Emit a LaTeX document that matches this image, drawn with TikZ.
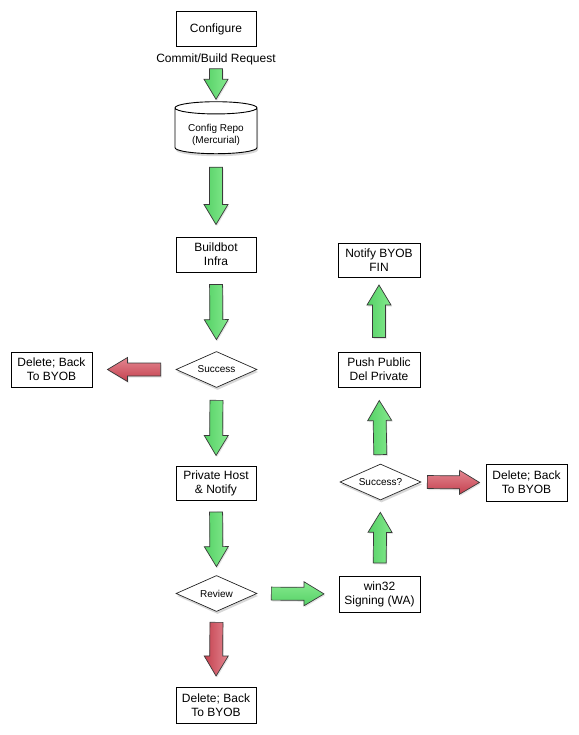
\documentclass[tikz,border=0pt]{standalone}
\usepackage{fontspec}
\setmainfont{Liberation Sans}
\usetikzlibrary{shapes.geometric,calc,shadows}
\definecolor{gA}{HTML}{55D166}
\definecolor{gB}{HTML}{85EA8E}
\definecolor{rA}{HTML}{C4404E}
\definecolor{rB}{HTML}{E38690}
\definecolor{edgegray}{HTML}{3A3A3A}
\tikzset{
  box/.style={draw=black, fill=white, line width=1pt, minimum width=80pt, minimum height=35pt,
    inner sep=1pt, align=center, font=\fontsize{12}{14}\selectfont},
  dec/.style={diamond, draw=black!85, fill=white, line width=0.7pt, minimum width=81pt,
    minimum height=36pt, inner sep=0pt, aspect=2.25, font=\fontsize{10}{12}\selectfont,
    drop shadow={opacity=0.3, shadow xshift=1pt, shadow yshift=-2.5pt}},
  repo/.style={cylinder, shape border rotate=90, aspect=0.22, draw=black, fill=white, line width=0.9pt,
    minimum width=82pt, minimum height=52pt, inner sep=0pt, align=center,
    font=\fontsize{10}{12}\selectfont,
    drop shadow={opacity=0.3, shadow xshift=1pt, shadow yshift=-2.5pt}},
  garrowv/.style={draw=edgegray, line width=0.7pt, left color=gA, right color=gB,
    drop shadow={opacity=0.2, shadow xshift=1pt, shadow yshift=-1.5pt}},
  garrowh/.style={draw=edgegray, line width=0.7pt, bottom color=gA, top color=gB,
    drop shadow={opacity=0.2, shadow xshift=1pt, shadow yshift=-1.5pt}},
  rarrowv/.style={draw=edgegray, line width=0.7pt, left color=rA, right color=rB,
    drop shadow={opacity=0.2, shadow xshift=1pt, shadow yshift=-1.5pt}},
  rarrowh/.style={draw=edgegray, line width=0.7pt, bottom color=rA, top color=rB,
    drop shadow={opacity=0.2, shadow xshift=1pt, shadow yshift=-1.5pt}},
  lbl/.style={inner sep=1pt, font=\fontsize{12}{14}\selectfont}
}
% #1 style, #2 from anchor, #3 to anchor, #4 gap at start, #5 gap at end
\newcommand\blockarrow[5]{%
  \coordinate (ba-s) at ($(#2)!#4!(#3)$);
  \coordinate (ba-e) at ($(#3)!#5!(#2)$);
  \coordinate (ba-h) at ($(ba-e)!20pt!(ba-s)$);
  \path[#1] ($(ba-s)!6.5pt!90:(ba-e)$) -- ($(ba-h)!6.5pt!90:(ba-e)$) -- ($(ba-h)!12pt!90:(ba-e)$)
    -- (ba-e) -- ($(ba-h)!12pt!-90:(ba-e)$) -- ($(ba-h)!6.5pt!-90:(ba-e)$)
    -- ($(ba-s)!6.5pt!-90:(ba-e)$) -- cycle;
}
\begin{document}
\begin{tikzpicture}[x=1pt, y=-1pt]
\useasboundingbox[fill=white] (0,0) rectangle (578,735);

\node[box] (conf) at (216,29.5) {Configure};
\node[lbl] (commit) at (216,59) {Commit/Build Request};
\node[repo] (repo) at (216,131) {\rule{0pt}{16pt}Config Repo\\(Mercurial)};
\node[box] (bb) at (216,254.5) {Buildbot\\Infra};
\node[dec] (succ) at (216.5,369.5) {Success};
\node[box, minimum width=81pt] (del1) at (51.5,369.5) {Delete; Back\\To BYOB};
\node[box, minimum height=34pt] (priv) at (216,483.5) {Private Host\\\& Notify};
\node[dec] (rev) at (216.5,593.5) {Review};
\node[box, minimum height=36pt] (del2) at (216,705) {Delete; Back\\To BYOB};
\node[box, minimum width=81pt, minimum height=36pt] (win) at (379.5,594) {win32\\Signing (WA)};
\node[dec] (succ2) at (380.5,482) {Success?};
\node[box, minimum width=81pt, minimum height=37pt] (del3) at (526.5,482.5) {Delete; Back\\To BYOB};
\node[box, minimum width=82pt] (push) at (379,369.5) {Push Public\\Del Private};
\node[box, minimum width=82pt, minimum height=34pt] (notify) at (379,260) {Notify BYOB\\FIN};

\blockarrow{garrowv}{commit.south}{repo.north}{3pt}{2pt}
\blockarrow{garrowv}{repo.south}{bb.north}{13pt}{12pt}
\blockarrow{garrowv}{bb.south}{succ.north}{12pt}{11.5pt}
\blockarrow{rarrowh}{succ.west}{del1.east}{15pt}{15pt}
\blockarrow{garrowv}{succ.south}{priv.north}{12.5pt}{10.5pt}
\blockarrow{garrowv}{priv.south}{rev.north}{11pt}{8.5pt}
\blockarrow{rarrowv}{rev.south}{del2.north}{10.5pt}{10.5pt}
\blockarrow{garrowh}{rev.east}{win.west}{14pt}{14.5pt}
\blockarrow{garrowv}{win.north}{succ2.south}{12.5pt}{12pt}
\blockarrow{rarrowh}{succ2.east}{del3.west}{6pt}{6pt}
\blockarrow{garrowv}{succ2.north}{push.south}{9pt}{13pt}
\blockarrow{garrowv}{push.north}{notify.south}{14pt}{7.5pt}
\end{tikzpicture}
\end{document}
